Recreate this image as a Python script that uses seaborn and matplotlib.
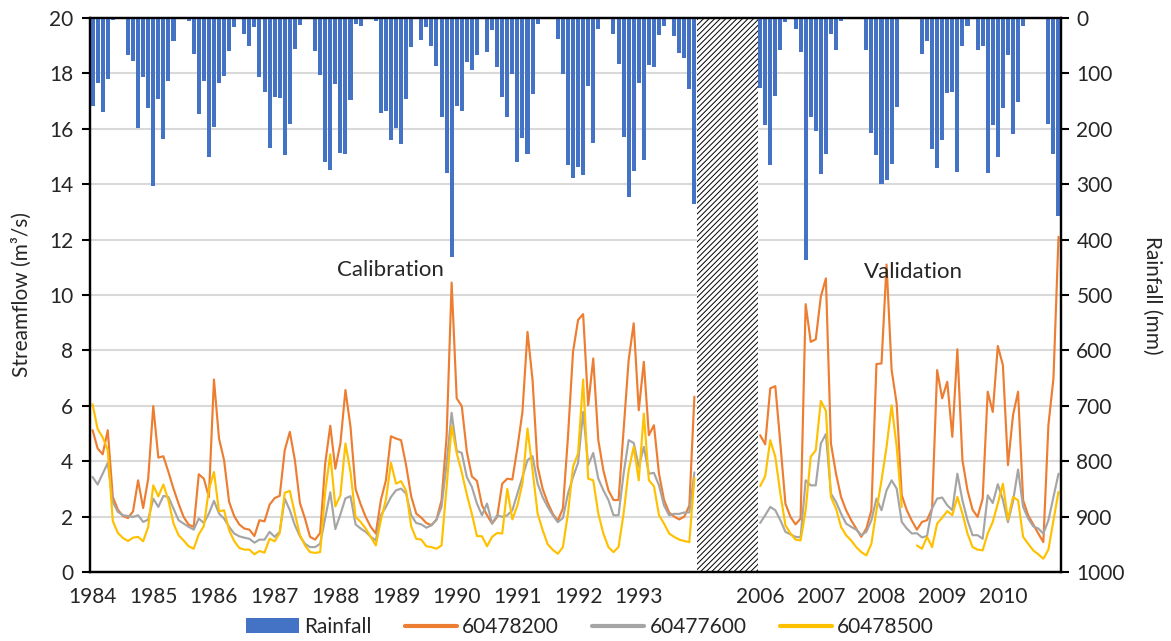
import numpy as np
import pandas as pd
import matplotlib
matplotlib.use("Agg")
import matplotlib.pyplot as plt
from matplotlib.patches import Patch
from matplotlib.lines import Line2D
import seaborn as sns

# ---------------------------------------------------------------------------
# Monthly series: calibration period (Jan 1984 - Dec 1993) and
# validation period (Jan 2006 - Dec 2010); a 12-month break separates them.
# ---------------------------------------------------------------------------
years_cal = list(range(1984, 1994))
years_val = list(range(2006, 2011))
gap_months = 12

# Monthly rainfall (mm)
rain_cal = [
    159, 117, 169, 110, 4, 0, 0, 66, 77, 199, 107, 162,
    303, 146, 219, 114, 42, 0, 0, 6, 65, 174, 114, 251,
    196, 117, 104, 59, 17, 0, 28, 50, 16, 107, 134, 235,
    143, 145, 248, 192, 56, 13, 0, 0, 60, 102, 259, 275,
    120, 244, 246, 148, 10, 15, 0, 0, 6, 172, 168, 220,
    198, 228, 146, 52, 0, 39, 16, 51, 87, 178, 280, 432,
    158, 167, 80, 94, 66, 0, 62, 22, 89, 143, 179, 101,
    259, 217, 245, 137, 11, 0, 0, 0, 38, 101, 265, 289,
    269, 284, 123, 225, 19, 0, 0, 29, 83, 214, 323, 276,
    118, 257, 84, 89, 31, 15, 0, 32, 63, 72, 129, 335,
]
rain_val = [
    126, 193, 265, 141, 58, 8, 0, 19, 61, 436, 178, 204,
    282, 246, 29, 58, 6, 0, 0, 0, 0, 57, 208, 248,
    299, 293, 264, 161, 0, 0, 0, 0, 65, 41, 237, 271,
    221, 136, 134, 278, 51, 14, 0, 58, 51, 280, 193, 250,
    163, 67, 209, 151, 14, 0, 0, 0, 0, 191, 245, 357,
]

# Streamflow (m3/s), station 60478200
q200_cal = [
    5.12, 4.46, 4.25, 5.12, 2.71, 2.25, 2.02, 1.95, 2.19, 3.31, 2.31, 3.37,
    5.99, 4.13, 4.18, 3.61, 3.01, 2.47, 1.99, 1.71, 1.63, 3.53, 3.37, 2.71,
    6.95, 4.82, 4.04, 2.53, 2.02, 1.72, 1.57, 1.53, 1.30, 1.87, 1.83, 2.43,
    2.67, 2.75, 4.40, 5.06, 4.04, 2.49, 1.93, 1.27, 1.17, 1.41, 3.92, 5.28,
    3.73, 4.64, 6.57, 5.24, 3.00, 2.45, 1.99, 1.63, 1.39, 2.59, 3.31, 4.90,
    4.82, 4.76, 3.85, 2.73, 2.11, 1.96, 1.77, 1.69, 1.89, 2.59, 4.88, 10.45,
    6.27, 5.99, 4.35, 3.45, 3.29, 2.41, 2.05, 1.75, 1.99, 3.19, 3.37, 3.34,
    4.48, 5.78, 8.67, 6.93, 3.80, 3.00, 2.50, 2.10, 1.85, 2.30, 4.88, 7.95,
    9.10, 9.31, 6.02, 7.71, 4.76, 3.67, 2.95, 2.60, 2.60, 5.12, 7.65, 8.98,
    5.84, 7.59, 4.94, 5.30, 3.55, 2.60, 2.15, 2.00, 1.90, 2.00, 2.40, 6.33,
]
q200_val = [
    4.94, 4.61, 6.63, 6.71, 4.64, 2.47, 1.99, 1.72, 1.93, 9.67, 8.31, 8.40,
    9.94, 10.60, 4.64, 3.55, 2.71, 2.23, 1.87, 1.57, 1.27, 1.57, 2.23, 7.51,
    7.53, 11.10, 7.29, 6.08, 2.77, 2.23, 1.85, 1.53, 1.81, 1.87, 2.30, 7.29,
    6.27, 6.87, 4.88, 8.04, 4.04, 2.95, 2.25, 1.99, 2.65, 6.51, 5.78, 8.16,
    7.47, 3.86, 5.66, 6.51, 2.59, 2.05, 1.72, 1.39, 1.08, 5.30, 6.99, 12.10,
]

# Streamflow (m3/s), station 60477600
q600_cal = [
    3.43, 3.16, 3.55, 3.94, 2.53, 2.17, 2.05, 2.02, 1.99, 2.05, 1.81, 1.89,
    2.65, 2.35, 2.75, 2.71, 2.29, 1.87, 1.75, 1.63, 1.53, 1.93, 1.77, 2.11,
    2.57, 2.11, 1.93, 1.63, 1.39, 1.29, 1.24, 1.20, 1.06, 1.17, 1.17, 1.45,
    1.27, 1.45, 2.65, 2.23, 1.69, 1.29, 1.02, 0.90, 0.90, 1.02, 1.95, 2.88,
    1.55, 2.08, 2.66, 2.74, 1.72, 1.57, 1.45, 1.27, 1.14, 2.05, 2.35, 2.71,
    2.95, 3.01, 2.83, 2.05, 1.77, 1.72, 1.60, 1.69, 1.89, 2.35, 3.92, 5.75,
    4.37, 4.30, 3.43, 3.07, 2.47, 2.05, 2.47, 1.75, 2.05, 1.99, 2.05, 2.23,
    2.83, 3.43, 4.04, 4.18, 3.19, 2.70, 2.35, 2.05, 1.80, 1.95, 2.83, 3.43,
    3.94, 5.78, 3.86, 4.30, 3.37, 2.95, 2.60, 2.05, 2.05, 3.55, 4.76, 4.66,
    3.80, 4.52, 3.55, 3.58, 3.13, 2.40, 2.05, 2.10, 2.10, 2.15, 2.15, 3.60,
]
q600_val = [
    1.77, 2.05, 2.35, 2.23, 1.87, 1.45, 1.36, 1.27, 1.25, 3.31, 3.13, 3.13,
    4.64, 4.98, 2.83, 2.53, 2.11, 1.75, 1.63, 1.53, 1.33, 1.45, 1.87, 2.65,
    2.23, 2.95, 3.31, 3.01, 1.81, 1.57, 1.39, 1.40, 1.25, 1.30, 2.30, 2.65,
    2.69, 2.41, 2.23, 3.55, 2.59, 1.87, 1.33, 1.33, 1.20, 2.77, 2.49, 3.17,
    2.60, 1.80, 2.55, 3.70, 2.35, 1.93, 1.65, 1.57, 1.39, 1.87, 2.71, 3.55,
]

# Streamflow (m3/s), station 60478500 (two missing months in 2008)
q500_cal = [
    6.06, 5.16, 4.86, 4.40, 1.84, 1.41, 1.23, 1.12, 1.24, 1.27, 1.11, 1.63,
    3.13, 2.73, 3.16, 2.59, 1.75, 1.33, 1.14, 0.93, 0.84, 1.36, 1.66, 2.98,
    3.61, 2.19, 2.23, 1.51, 1.12, 0.87, 0.81, 0.81, 0.64, 0.76, 0.70, 1.20,
    1.11, 1.41, 2.86, 2.93, 2.11, 1.33, 0.96, 0.72, 0.69, 0.72, 2.90, 4.25,
    2.37, 2.77, 4.64, 3.61, 1.99, 1.81, 1.57, 1.27, 0.96, 1.87, 2.61, 3.94,
    3.19, 3.28, 2.93, 1.65, 1.20, 1.17, 0.93, 0.90, 0.84, 0.96, 3.07, 5.27,
    4.30, 3.60, 2.80, 2.10, 1.30, 1.29, 0.93, 1.27, 1.41, 1.39, 3.00, 1.90,
    2.40, 3.20, 5.18, 3.67, 2.11, 1.51, 1.00, 0.80, 0.66, 0.90, 2.11, 3.80,
    4.28, 6.95, 3.37, 3.31, 2.11, 1.39, 0.90, 0.72, 0.90, 2.11, 3.67, 4.52,
    3.31, 5.72, 3.31, 3.10, 2.05, 1.75, 1.39, 1.27, 1.17, 1.12, 1.08, 3.40,
]
q500_val = [
    3.10, 3.46, 4.76, 4.16, 2.83, 1.69, 1.39, 1.17, 1.14, 2.23, 4.16, 4.40,
    6.18, 5.82, 2.71, 2.29, 1.63, 1.33, 1.14, 0.90, 0.72, 0.60, 1.02, 2.23,
    3.31, 4.52, 6.02, 4.52, 2.35, np.nan, np.nan, 0.96, 0.84, 1.27, 0.90, 1.75,
    1.96, 2.20, 2.05, 2.71, 2.11, 1.39, 0.90, 0.81, 0.78, 1.39, 1.81, 2.47,
    3.19, 1.89, 2.71, 2.59, 1.27, 1.02, 0.78, 0.64, 0.48, 0.81, 1.87, 2.89,
]

station_names = ["60478200", "60477600", "60478500"]
station_colors = ["#ED7D31", "#A5A5A5", "#FFC000"]
rain_color = "#4472C4"

# ---------------------------------------------------------------------------
gap = [np.nan] * gap_months
rain = np.array(rain_cal + gap + rain_val, dtype=float)
flows = [
    np.array(q200_cal + gap + q200_val, dtype=float),
    np.array(q600_cal + gap + q600_val, dtype=float),
    np.array(q500_cal + gap + q500_val, dtype=float),
]
n = len(rain)
pos = np.arange(n)
gap_start = len(rain_cal)

sns.set_style("white")
plt.rcParams["font.family"] = ["Lato", "DejaVu Sans"]
plt.rcParams["hatch.linewidth"] = 0.7
FS = 15

fig = plt.figure(figsize=(11.71, 6.41), dpi=100)
ax = fig.add_axes([0.0769, 0.1076, 0.8292, 0.8643])
ax2 = ax.twinx()

# Rainfall bars hanging from the top (inverted right axis)
rain_df = pd.DataFrame({"pos": pos, "rain": rain}).dropna()
sns.barplot(data=rain_df, x="pos", y="rain", native_scale=True,
            color=rain_color, saturation=1, width=0.8, errorbar=None,
            linewidth=0, ax=ax2)


def runs(values):
    """Index runs of consecutive finite values."""
    ok = np.isfinite(values)
    out, start = [], None
    for i, flag in enumerate(ok):
        if flag and start is None:
            start = i
        elif not flag and start is not None:
            out.append((start, i))
            start = None
    if start is not None:
        out.append((start, len(values)))
    return out


for vals, col in zip(flows, station_colors):
    for a, b in runs(vals):
        sns.lineplot(x=pos[a:b], y=vals[a:b], color=col, linewidth=1.55,
                     legend=False, ax=ax)

# Break between the two periods
ax.axvspan(gap_start - 0.5, gap_start + gap_months - 0.5, facecolor="white",
           edgecolor="black", hatch="//////", linewidth=0, zorder=1.5)

# Axes limits and ticks
ax.set_xlim(-0.5, n - 0.5)
ax.set_ylim(0, 20)
ax.set_yticks(np.arange(0, 21, 2))
ax2.set_ylim(1000, 0)
ax2.set_yticks(np.arange(0, 1001, 100))

label_pos = [12 * k for k in range(len(years_cal))] + \
            [gap_start + gap_months + 12 * k for k in range(len(years_val))]
ax.set_xticks(label_pos, [str(y) for y in years_cal + years_val])
ax.set_xticks(np.arange(-0.5, n, 12), minor=True)
ax.tick_params(axis="x", which="major", length=0, pad=11, labelsize=FS)
ax.tick_params(axis="x", which="minor", length=6, width=1.5, direction="out",
               color="black")
ax.tick_params(axis="y", which="major", length=6, width=1.5, direction="out",
               pad=6, labelsize=FS, color="black", left=True)
ax2.tick_params(axis="y", which="major", length=6, width=1.5, direction="out",
                pad=5, labelsize=FS, color="black", right=True)

ax.yaxis.grid(True, color="#D9D9D9", linewidth=1.5)
ax.xaxis.grid(False)
ax.set_axisbelow(True)

for a_ in (ax, ax2):
    a_.set_xlabel("")
    a_.set_ylabel("")
    for side, sp in a_.spines.items():
        sp.set_visible(True)
        sp.set_color("black")
        sp.set_linewidth(1.6)

ax.text(58.8, 10.9, "Calibration", ha="center", va="center", fontsize=FS + 1)
ax.text(162.4, 10.83, "Validation", ha="center", va="center", fontsize=FS + 1)

fig.text(0.0188, 0.54, "Streamflow (m³/s)", rotation=90, ha="center",
         va="center", fontsize=FS)
fig.text(0.9838, 0.54, "Rainfall (mm)", rotation=270, ha="center",
         va="center", fontsize=FS)

handles = [Patch(facecolor=rain_color, edgecolor="none", label="Rainfall")]
handles += [Line2D([0], [0], color=c, linewidth=3, label=s)
            for s, c in zip(station_names, station_colors)]
fig.legend(handles=handles, loc="center", bbox_to_anchor=(0.504, 0.022),
           ncol=4, frameon=False, fontsize=FS, handlelength=2.5,
           handletextpad=0.25, columnspacing=1.6)

fig.savefig("out.png", dpi=100)
